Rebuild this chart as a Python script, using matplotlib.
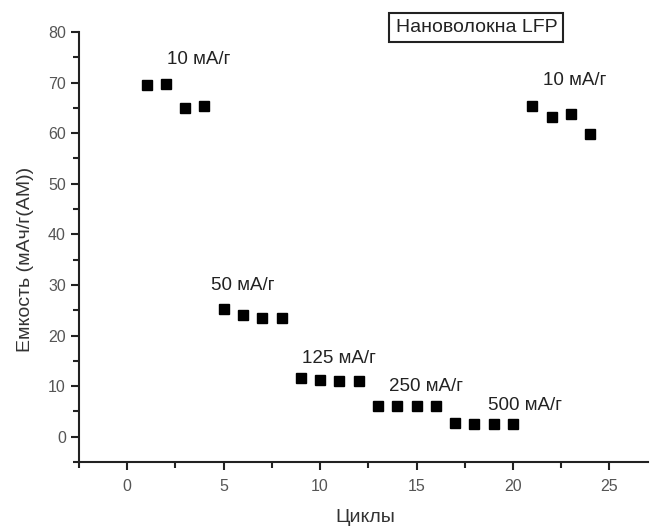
import numpy as np
import matplotlib.pyplot as plt
from matplotlib.ticker import MultipleLocator

plt.rcParams['font.family'] = ['Liberation Sans', 'DejaVu Sans']

# Data
cycles = [1, 2, 3, 4, 5, 6, 7, 8, 9, 10, 11, 12,
          13, 14, 15, 16, 17, 18, 19, 20, 21, 22, 23, 24]
capacity = [69.5, 69.8, 65.0, 65.3, 25.2, 24.0, 23.4, 23.4,
            11.7, 11.3, 11.1, 11.1, 6.0, 6.0, 6.0, 6.0,
            2.7, 2.6, 2.6, 2.6, 65.4, 63.1, 63.8, 59.8]

rate_labels = ['10 мА/г', '50 мА/г', '125 мА/г', '250 мА/г', '500 мА/г', '10 мА/г']
label_x = [3.7, 6.0, 11.0, 15.5, 20.6, 23.2]
label_y = [74.5, 29.9, 15.4, 9.9, 6.1, 70.5]

fig = plt.figure(figsize=(6.51, 5.27), dpi=100)
ax = fig.add_axes([0.1214, 0.1233, 0.874, 0.816])

ax.plot(cycles, capacity, 's', color='black', markersize=7.8, linestyle='none')

for txt, tx, ty in zip(rate_labels, label_x, label_y):
    ax.text(tx, ty, txt, ha='center', va='center', fontsize=13.5, color='#222222')

ax.text(18.1, 80.9, 'Нановолокна LFP', ha='center', va='center', fontsize=14,
        color='#222222', clip_on=False,
        bbox=dict(boxstyle='square,pad=0.32', facecolor='white', edgecolor='#222222', linewidth=1.5))

ax.set_xlim(-2.5, 27)
ax.set_ylim(-5, 80)
ax.xaxis.set_major_locator(MultipleLocator(5))
ax.xaxis.set_minor_locator(MultipleLocator(2.5))
ax.yaxis.set_major_locator(MultipleLocator(10))
ax.yaxis.set_minor_locator(MultipleLocator(5))

for side in ['top', 'right']:
    ax.spines[side].set_visible(False)
for side in ['left', 'bottom']:
    ax.spines[side].set_linewidth(1.5)
    ax.spines[side].set_color('#222222')

ax.tick_params(which='major', direction='out', length=6, width=1.5, colors='#222222',
               labelsize=11.5, labelcolor='#555555')
ax.tick_params(which='minor', direction='out', length=4, width=1.5, colors='#222222')
ax.tick_params(axis='x', pad=6)

ax.set_xlabel('Циклы', fontsize=14, color='#333333')
ax.set_ylabel('Емкость (мАч/г(АМ))', fontsize=14, color='#333333')
ax.xaxis.set_label_coords(0.503, -0.11)
ax.yaxis.set_label_coords(-0.079, 0.47)

fig.savefig('out.png', dpi=100)
